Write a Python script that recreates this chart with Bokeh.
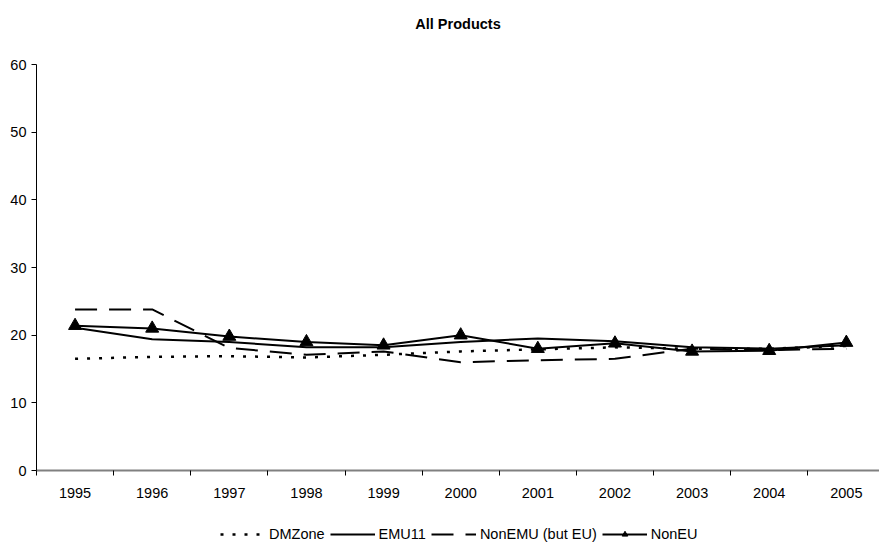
from bokeh.plotting import figure
from bokeh.layouts import column
from bokeh.models import FixedTicker, Legend, LegendItem, Range1d
from bokeh.embed import file_html
from bokeh.resources import INLINE

years = [1995, 1996, 1997, 1998, 1999, 2000, 2001, 2002, 2003, 2004, 2005]
dmzone = [16.5, 16.8, 16.9, 16.7, 17.1, 17.6, 17.9, 18.2, 18.0, 18.0, 18.4]
emu11 = [21.1, 19.4, 19.0, 18.2, 18.2, 19.0, 19.5, 19.1, 18.2, 18.0, 18.5]
nonemu = [23.8, 23.8, 18.1, 17.1, 17.6, 16.0, 16.3, 16.5, 18.0, 17.8, 18.0]
noneu = [21.4, 21.0, 19.8, 19.0, 18.5, 20.0, 18.0, 18.8, 17.6, 17.7, 18.9]
y_ticks = [0, 10, 20, 30, 40, 50, 60]

FONT = "Liberation Sans"
FS = "14.5px"

# title strip on top
head = figure(width=879, height=40, output_backend="svg", toolbar_location=None,
              x_range=Range1d(0, 1), y_range=Range1d(0, 1), title="All Products",
              min_border_left=0, min_border_right=0, min_border_top=36, min_border_bottom=0)
head.axis.visible = False
head.grid.visible = False
head.outline_line_color = None
head.title.align = "center"
head.title.text_font = FONT
head.title.text_font_size = FS
head.title.text_font_style = "bold"
head.title.text_color = "#000000"

main = figure(width=879, height=462, output_backend="svg", toolbar_location=None,
              x_range=Range1d(1994.5, 2005.43), y_range=Range1d(0, 60),
              min_border_left=36, min_border_right=0, min_border_top=24,
              min_border_bottom=32)
main.outline_line_color = None
main.grid.visible = False

main.xaxis.ticker = FixedTicker(ticks=years, minor_ticks=[y + 0.5 for y in years[:-1]] + [1994.5])
main.xaxis.major_tick_line_color = None
main.xaxis.minor_tick_out = 5
main.xaxis.minor_tick_in = 0
main.xaxis.minor_tick_line_color = "#000000"
main.xaxis.axis_line_color = "#808080"
main.xaxis.axis_line_width = 2
main.xaxis.major_label_text_font = FONT
main.xaxis.major_label_text_font_size = FS
main.xaxis.major_label_text_color = "#000000"
main.xaxis.major_label_standoff = 11

main.yaxis.ticker = FixedTicker(ticks=y_ticks)
main.yaxis.minor_tick_line_color = None
main.yaxis.major_tick_out = 5
main.yaxis.major_tick_in = 0
main.yaxis.major_tick_line_color = "#000000"
main.yaxis.axis_line_color = "#000000"
main.yaxis.axis_line_width = 1
main.yaxis.major_label_text_font = FONT
main.yaxis.major_label_text_font_size = FS
main.yaxis.major_label_text_color = "#000000"
main.yaxis.major_label_standoff = 5


def draw(fig):
    r1 = fig.line(years, dmzone, line_color="black", line_width=2.5, line_dash="3 9")
    r2 = fig.line(years, emu11, line_color="black", line_width=2)
    r3 = fig.line(years, nonemu, line_color="black", line_width=2, line_dash="22 12")
    r4 = fig.line(years, noneu, line_color="black", line_width=2)
    r5 = fig.scatter(years, noneu, marker="triangle", size=13, fill_color="black", line_color="black")
    return r1, r2, r3, r4, r5


draw(main)

# legend strip below the chart (series lie outside its view, only the key shows)
leg_fig = figure(width=879, height=40, output_backend="svg", toolbar_location=None,
                 x_range=Range1d(0, 1), y_range=Range1d(0, 1),
                 min_border_left=0, min_border_right=0, min_border_top=0, min_border_bottom=0)
leg_fig.axis.visible = False
leg_fig.grid.visible = False
leg_fig.outline_line_color = None
k1, k2, k3, k4, k5 = draw(leg_fig)

legend = Legend(items=[
    LegendItem(label="DMZone", renderers=[k1]),
    LegendItem(label="EMU11", renderers=[k2]),
    LegendItem(label="NonEMU (but EU)", renderers=[k3]),
    LegendItem(label="NonEU", renderers=[k4, k5]),
], orientation="horizontal", location=(184, 0))
legend.label_text_font = FONT
legend.label_text_font_size = FS
legend.label_text_color = "#000000"
legend.glyph_width = 45
legend.glyph_height = 14
legend.label_height = 14
legend.label_standoff = 4
legend.spacing = 5
legend.border_line_color = None
legend.background_fill_alpha = 0
legend.padding = 1
legend.margin = 0
leg_fig.add_layout(legend, "center")

layout = column(head, main, leg_fig, spacing=0)

open("out.html", "w").write(file_html(layout, INLINE))
